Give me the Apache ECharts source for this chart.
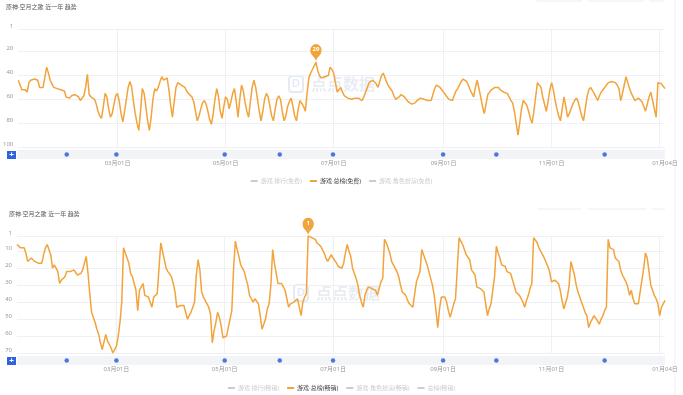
<!DOCTYPE html>
<html><head><meta charset="utf-8">
<script src="https://cdn.jsdelivr.net/npm/echarts@6/dist/echarts.min.js"></script>
<style>html,body{margin:0;padding:0;background:#fff}#c{width:683px;height:395px}</style>
</head><body><div id="c"></div>
<script>
const titleText = '原神·空月之歌 近一年 趋势';
const startDate = [2023, 1, 4];
const freeRank = [
44,48,52,53,52,54,46,44,43,43,43,44,50,49,50,51,33,38,44,47,50,49,51,51,52,52,53,58,57,59,
57,57,56,57,58,61,60,57,50,39,56,58,57,60,64,70,74,76,66,55,58,68,75,72,64,57,55,62,72,79,
70,60,50,45,50,62,72,80,86,70,51,55,66,78,86,75,60,51,53,50,45,41,44,43,42,52,65,75,62,50,
46,47,48,47,50,53,55,56,58,62,70,78,74,68,63,61,64,70,77,81,72,60,51,58,70,76,66,58,60,68,
62,55,51,62,75,60,48,53,63,70,75,62,50,44,50,60,70,78,70,60,55,58,66,74,78,68,60,57,60,70,
78,74,66,62,59,66,74,78,68,61,62,66,70,55,42,38,35,32,29,36,40,42,42,41,40,40,33,35,38,46,
54,52,50,54,57,58,59,59,60,59,59,60,59,60,61,58,54,50,46,45,44,44,47,50,45,40,38,42,46,49,
50,53,57,60,61,58,56,55,58,60,62,63,64,65,63,61,60,59,59,60,61,61,61,61,56,51,48,47,50,52,
54,56,58,60,61,61,57,53,51,48,45,43,42,45,48,52,55,58,50,44,51,58,66,72,64,56,54,52,51,50,
49,50,52,53,54,55,55,58,61,63,70,80,90,80,68,61,62,65,70,76,80,70,58,46,48,50,58,64,70,62,
52,46,52,61,68,74,78,68,58,66,75,72,68,64,61,59,62,68,74,78,68,58,52,50,51,55,58,61,57,54,
52,50,48,46,46,45,44,46,48,51,61,55,48,41,46,51,55,58,61,60,59,59,62,66,70,64,58,54,61,68,
75,46,45,47,49,51
];
const grossRank = [
6,7,8,8,8,11,16,15,14,14,16,17,17,17,17,12,8,6,9,12,20,18,20,22,29,27,27,25,22,23,
22,21,21,22,24,24,23,21,17,13,23,35,46,49,52,56,59,64,68,68,59,63,65,67,70,70,66,60,52,40,
8,11,14,17,23,25,26,33,45,33,31,29,36,36,37,38,43,37,36,35,35,5,10,15,20,22,23,25,29,34,
43,42,42,42,42,46,50,48,46,43,40,24,15,21,34,37,39,41,43,47,64,57,52,46,49,54,61,60,60,55,
50,45,20,4,9,13,18,20,22,26,30,36,38,40,38,39,41,48,56,53,50,44,41,30,9,17,23,29,29,29,
31,33,38,43,41,40,40,40,38,43,48,40,37,35,1,2,2,3,3,5,6,7,8,11,14,16,17,12,14,15,
17,19,20,20,17,11,6,10,13,20,23,26,30,36,40,43,36,33,31,31,32,31,33,36,32,28,26,3,5,6,
11,16,18,19,22,25,30,34,35,36,39,41,42,43,35,28,25,22,9,12,15,18,22,26,30,36,45,55,44,37,
37,37,40,45,49,45,41,38,20,2,4,6,9,12,13,15,21,22,24,31,32,32,33,34,41,48,44,41,40,25,
7,11,14,18,18,19,22,22,23,24,30,34,34,36,38,40,43,39,36,32,29,2,2,5,8,10,12,14,15,19,
22,28,27,27,28,29,33,39,44,44,37,30,16,20,24,30,34,37,40,43,46,48,55,52,50,48,47,51,53,50,
48,45,43,3,8,9,9,14,15,16,21,24,26,28,31,36,33,38,41,41,41,34,27,20,11,14,22,30,33,36,
38,41,48,43,41,39
];
const eventDates = ['2023-02-01','2023-03-01','2023-05-01','2023-06-01','2023-07-01','2023-09-01','2023-10-01','2023-12-01'];
const xTickDays = ['03-01','05-01','07-01','09-01','11-01'];
const splitDays = ['03-01','05-01','07-01','09-01','11-01','01-01'];
const legend1 = ['游戏·排行(免费)','游戏·总榜(免费)','游戏·角色扮演(免费)'];
const legend2 = ['游戏·排行(畅销)','游戏·总榜(畅销)','游戏·角色扮演(畅销)','总榜(畅销)'];
const rankRange1 = [1, 100];
const rankRange2 = [1, 70];

const dates = [];
(function(){
  const t0 = Date.UTC(startDate[0], startDate[1]-1, startDate[2]);
  for (let i = 0; i < freeRank.length; i++) dates.push(new Date(t0 + i*86400000).toISOString().slice(0,10));
})();
const last = dates.length - 1;
const fmt = s => s.slice(5,7) + '月' + s.slice(8,10) + '日';
const labelInterval = (i, v) => xTickDays.includes(String(v).slice(5)) || i === last;
const splitInterval = (i, v) => splitDays.includes(String(v).slice(5));

const ORANGE = '#F2A33A';
const GRID_L = '#eef0f3';
const FONT = '"Noto Sans", "Noto Sans CJK SC", sans-serif';

function mainX(gi){
  return {type:'category', gridIndex:gi, data:dates, boundaryGap:false,
    axisLine:{show:false}, axisTick:{show:false},
    axisLabel:{interval:labelInterval, formatter:fmt, color:'#999', fontSize:6, margin:13, fontFamily:FONT},
    splitLine:{show:true, interval:splitInterval, lineStyle:{color:GRID_L, width:1}}};
}
function mainY(gi, range, sn){
  return {type:'value', gridIndex:gi, inverse:true, min:range[0], max:range[1], splitNumber:sn,
    axisLine:{show:false}, axisTick:{show:false},
    axisLabel:{color:'#999', fontSize:6, margin:5, verticalAlign:'bottom', fontFamily:FONT},
    splitLine:{lineStyle:{color:GRID_L, width:1}}};
}
function bandX(gi){
  return {type:'category', gridIndex:gi, data:dates, boundaryGap:false, show:false};
}
function bandY(gi){
  return {type:'value', gridIndex:gi, min:0, max:1, show:false};
}
function lineSeries(name, data, xi, yi){
  return {name, type:'line', xAxisIndex:xi, yAxisIndex:yi, data, showSymbol:false, symbol:'none',
    lineStyle:{color:ORANGE, width:1.5}, itemStyle:{color:ORANGE}, z:3,
    markPoint:{symbol:'pin', symbolSize:[19,21], itemStyle:{color:ORANGE},
      label:{show:true, color:'#fff', fontSize:6, fontWeight:'bold', fontFamily:FONT, position:'inside', offset:[0,-2]},
      data:[{type:'min'}]}};
}
function emptySeries(name, xi, yi){
  return {name, type:'line', xAxisIndex:xi, yAxisIndex:yi, data:[], showSymbol:false,
    lineStyle:{color:'#ccc'}, itemStyle:{color:'#ccc'}};
}
function eventSeries(xi, yi){
  return {type:'scatter', xAxisIndex:xi, yAxisIndex:yi, symbolSize:4.5, silent:true,
    itemStyle:{color:'#2556d8'}, data:eventDates.map(d => [d, 0.5])};
}
const selected = {};
legend1.concat(legend2).forEach(n => selected[n] = false);
selected[legend1[1]] = true; selected[legend2[1]] = true;

function legendOpt(names, top){
  return {data:names, top, left:'center', itemWidth:7, itemHeight:2, itemGap:8, icon:'rect', padding:0,
    selected, inactiveColor:'#ccc',
    textStyle:{fontSize:6, color:'#444', fontFamily:FONT, padding:[0,0,0,-2]}};
}
function watermark(cx, cy){
  return {type:'group', x:cx, y:cy, silent:true, z:1, children:[
    {type:'rect', shape:{x:-46, y:-8, width:14, height:16, r:3}, style:{fill:'none', stroke:'rgba(170,190,220,0.3)', lineWidth:2}},
    {type:'text', style:{x:-39, y:0, text:'D', fill:'rgba(170,190,220,0.3)', font:'bold 11px sans-serif', align:'center', verticalAlign:'middle'}},
    {type:'text', style:{x:8, y:0, text:'点点数据', fill:'rgba(180,195,220,0.3)', font:'bold 16px "Noto Sans CJK SC"', align:'center', verticalAlign:'middle'}}
  ]};
}
function plusBtn(x, y){
  return {type:'group', x, y, children:[
    {type:'rect', shape:{x:0, y:0, width:9, height:8}, style:{fill:'#2f62e0'}},
    {type:'text', style:{x:4.5, y:4, text:'+', fill:'#fff', font:'bold 8px sans-serif', align:'center', verticalAlign:'middle'}}
  ]};
}

const option = {
  backgroundColor:'#fff',
  animation:false,
  textStyle:{fontFamily:FONT},
  title:[
    {text:titleText, left:6, top:4, padding:0, textStyle:{fontSize:6, color:'#555', fontWeight:'normal', fontFamily:FONT}},
    {text:titleText, left:9, top:211, padding:0, textStyle:{fontSize:6, color:'#555', fontWeight:'normal', fontFamily:FONT}}
  ],
  legend:[legendOpt(legend1, 178), legendOpt(legend2, 385)],
  grid:[
    {left:17, right:18, top:29, height:118},
    {left:17, right:18, top:150, height:9, show:true, backgroundColor:'#f2f4f7', borderWidth:0},
    {left:17, right:18, top:236, height:117},
    {left:17, right:18, top:356, height:9, show:true, backgroundColor:'#f2f4f7', borderWidth:0}
  ],
  xAxis:[mainX(0), bandX(1), mainX(2), bandX(3)],
  yAxis:[mainY(0, rankRange1, 5), bandY(1), mainY(2, rankRange2, 7), bandY(3)],
  series:[
    emptySeries(legend1[0], 0, 0),
    lineSeries(legend1[1], freeRank, 0, 0),
    emptySeries(legend1[2], 0, 0),
    eventSeries(1, 1),
    emptySeries(legend2[0], 2, 2),
    lineSeries(legend2[1], grossRank, 2, 2),
    emptySeries(legend2[2], 2, 2),
    emptySeries(legend2[3], 2, 2),
    eventSeries(3, 3)
  ],
  graphic:[
    watermark(335, 84),
    watermark(340, 293),
    plusBtn(7, 151),
    plusBtn(7, 357),
    {type:'rect', shape:{x:536, y:-12, width:45, height:13}, style:{fill:'none', stroke:'#eceef1', lineWidth:1}},
    {type:'rect', shape:{x:588, y:-12, width:56, height:13}, style:{fill:'none', stroke:'#eceef1', lineWidth:1}},
    {type:'rect', shape:{x:650, y:-12, width:13, height:13}, style:{fill:'none', stroke:'#eceef1', lineWidth:1}},
    {type:'line', shape:{x1:538, y1:209, x2:581, y2:209}, style:{stroke:'#eceef1', lineWidth:1}},
    {type:'line', shape:{x1:588, y1:209, x2:646, y2:209}, style:{stroke:'#eceef1', lineWidth:1}},
    {type:'line', shape:{x1:652, y1:209, x2:665, y2:209}, style:{stroke:'#eceef1', lineWidth:1}},
    {type:'line', shape:{x1:675, y1:0, x2:675, y2:395}, style:{stroke:'#f0f1f3', lineWidth:1}}
  ]
};
const chart = echarts.init(document.getElementById('c'));
chart.setOption(option);
</script></body></html>
